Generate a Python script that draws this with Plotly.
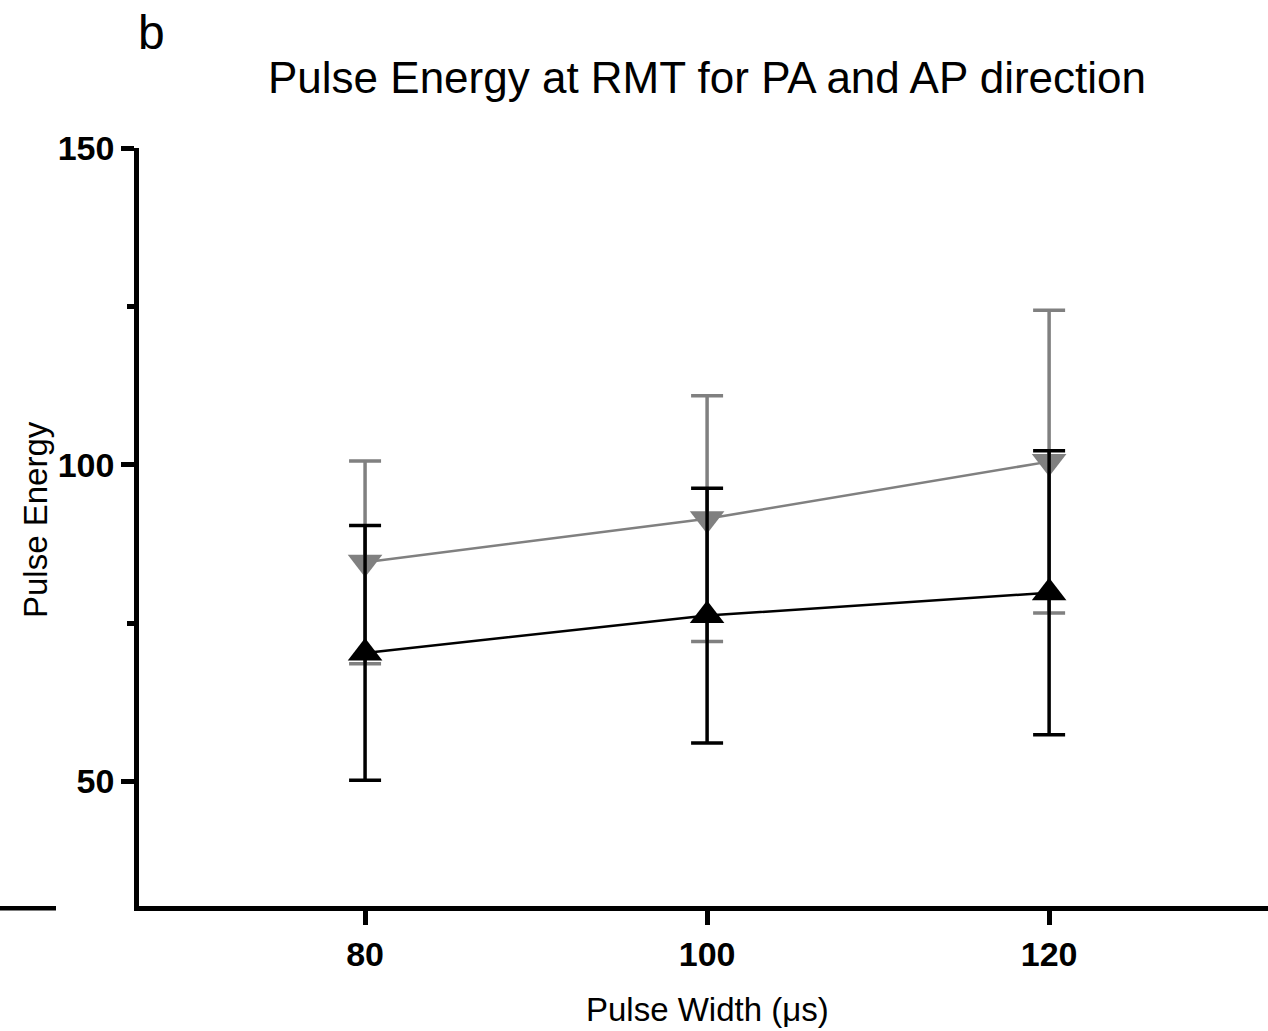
import plotly.graph_objects as go

# ---- data ----
pulse_width = [80, 100, 120]
pa_mean = [84.6, 91.5, 100.5]      # grey, down triangles
pa_err = [16.0, 19.4, 23.9]
ap_mean = [70.3, 76.2, 79.8]       # black, up triangles
ap_err = [20.1, 20.1, 22.4]

x_ticks = [80, 100, 120]
y_ticks = [50, 100, 150]

FONT = "Liberation Sans, Arial, sans-serif"
W, H = 1268, 1031
L, R, T, B = 139, 0, 148, 125
PW, PH = W - L - R, H - T - B

def px(xpix):
    return (xpix - L) / PW

def py(ypix):
    return (H - B - ypix) / PH

fig = go.Figure()

fig.add_trace(go.Scatter(
    x=pulse_width, y=pa_mean, mode="lines+markers", name="PA",
    line=dict(color="#808080", width=2.5),
    marker=dict(symbol="triangle-down", size=30, color="#808080"),
    error_y=dict(type="data", array=pa_err, visible=True,
                 color="#808080", thickness=3.5, width=16),
    hoverinfo="skip", showlegend=False,
))
fig.add_trace(go.Scatter(
    x=pulse_width, y=ap_mean, mode="lines+markers", name="AP",
    line=dict(color="black", width=2.5),
    marker=dict(symbol="triangle-up", size=30, color="black"),
    error_y=dict(type="data", array=ap_err, visible=True,
                 color="black", thickness=3.5, width=16),
    hoverinfo="skip", showlegend=False,
))

fig.update_layout(
    width=W, height=H,
    margin=dict(l=L, r=R, t=T, b=B, pad=0),
    paper_bgcolor="white", plot_bgcolor="white",
    font=dict(family=FONT, color="black"),
    xaxis=dict(
        range=[66.78, 132.8], tickvals=x_ticks, ticktext=[str(v) for v in x_ticks],
        showline=True, linecolor="black", linewidth=4.5,
        ticks="outside", ticklen=14, tickwidth=4.5, tickcolor="black",
        tickfont=dict(family=FONT, size=34, color="black", weight="bold"),
        showgrid=False, zeroline=False,
    ),
    yaxis=dict(
        range=[30.36, 150], tickvals=y_ticks, ticktext=[str(v) for v in y_ticks],
        showline=True, linecolor="black", linewidth=4.5,
        ticks="outside", ticklen=13, tickwidth=4.5, tickcolor="black",
        tickfont=dict(family=FONT, size=34, color="black", weight="bold"),
        minor=dict(tickvals=[75, 125], ticks="outside", ticklen=7,
                   tickwidth=4.5, tickcolor="black", showgrid=False),
        showgrid=False, zeroline=False,
    ),
    annotations=[
        dict(text="Pulse Energy at RMT for PA and AP direction", xref="paper", yref="paper",
             x=px(706.5), y=py(78), xanchor="center", yanchor="middle", showarrow=False,
             font=dict(family=FONT, size=44, color="black")),
        dict(text="b", xref="paper", yref="paper",
             x=px(136), y=py(32), xanchor="left", yanchor="middle", showarrow=False,
             font=dict(family=FONT, size=48, color="black")),
        dict(text="Pulse Width (μs)", xref="paper", yref="paper",
             x=px(707), y=py(1009), xanchor="center", yanchor="middle", showarrow=False,
             font=dict(family=FONT, size=33, color="black")),
        dict(text="Pulse Energy", xref="paper", yref="paper", textangle=-90,
             x=px(35), y=py(520), xanchor="center", yanchor="middle", showarrow=False,
             font=dict(family=FONT, size=33, color="black")),
    ],
    shapes=[
        dict(type="line", xref="paper", yref="paper",
             x0=px(0), x1=px(56), y0=py(908.3), y1=py(908.3),
             line=dict(color="black", width=4.5)),
    ],
)

fig.write_html("out.html")
